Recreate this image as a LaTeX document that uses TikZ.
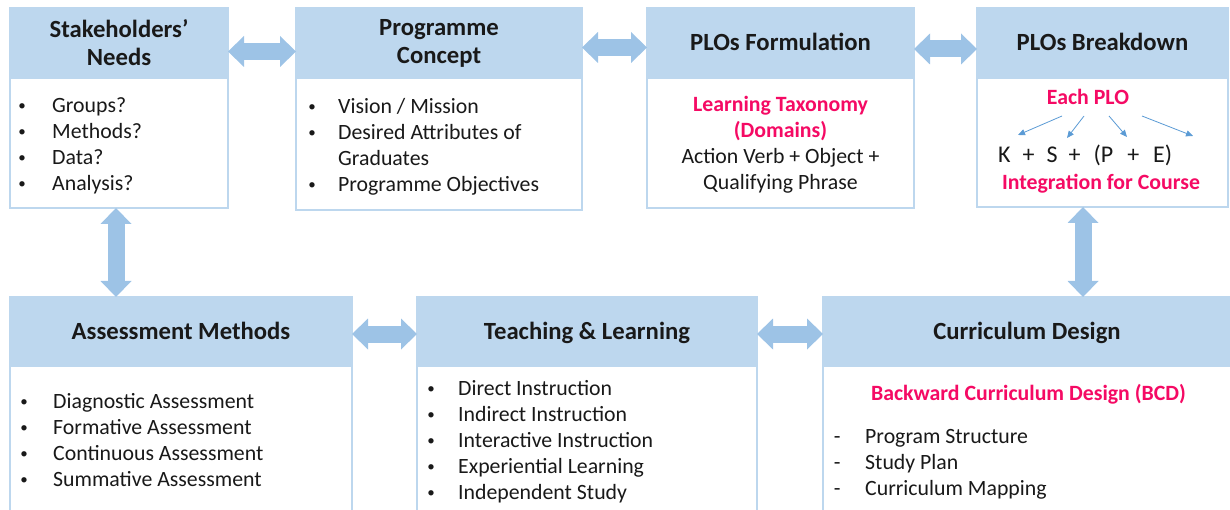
\documentclass[tikz,border=0pt]{standalone}
\usepackage{fontspec}
\setmainfont{Carlito}
\usetikzlibrary{positioning, arrows.meta}

\definecolor{hdblue}{RGB}{189,215,238}
\definecolor{arblue}{RGB}{157,195,230}
\definecolor{lnblue}{RGB}{91,155,213}
\definecolor{hlpink}{RGB}{245,10,100}
\definecolor{txt}{RGB}{25,25,25}

\newcommand{\itm}[2][28pt]{\makebox[0pt]{\raisebox{1.8pt}{\fontsize{15}{15}\selectfont\textbullet}}\hspace{#1}#2}
\newcommand{\dsh}[1]{\makebox[0pt]{-}\hspace{28pt}#1}
\newcommand{\hl}[1]{\textcolor{hlpink}{\bfseries #1}}

\begin{document}
\begin{tikzpicture}[x = 1pt, y = 1pt,
                node distance = 0pt, % boxes sit on each other
                head/.style = {fill = hdblue, draw = hdblue, line width = 1.5pt,
                    outer sep = 0pt, inner sep = 2pt, align = center, text = txt,
                    font = \fontsize{24.7}{28}\selectfont\bfseries},
                head1/.style = {head, text height = 16pt, text depth = 0pt},
                box/.style = {draw = hdblue, fill = white, line width = 1.5pt,
                    outer sep = 0pt},
                lst/.style = {inner sep = 0pt, anchor = north west, align = left,
                    text = txt, font = \fontsize{21.8}{26}\selectfont},
                bigarrow/.style = {draw = arblue, line width = 17pt,
                    {Triangle[length=16pt,width=31pt,line width=0pt]}-{Triangle[length=16pt,width=31pt,line width=0pt]}},
                plo/.style = {draw = lnblue, line width = 0.8pt,
                    -{Triangle[length=7pt,width=6pt]}}
            ]

            \useasboundingbox (0,0) rectangle (1230,-510);
            \clip (0,0) rectangle (1230,-510);

            % top row
            \node[head, minimum width = 218pt, minimum height = 70pt,
                anchor = north west] (sn) at (10,-8) {Stakeholders'\\Needs};
            \node[head, minimum width = 286pt, minimum height = 70pt,
                right = 68pt of sn] (pc) {Programme\\Concept};
            \node[head1, minimum width = 267pt, minimum height = 70pt,
                right = 65pt of pc] (pf) {PLOs Formulation};
            \node[head1, minimum width = 251pt, minimum height = 70pt,
                right = 63pt of pf] (pb) {PLOs Breakdown};

            \node[box, minimum width = 218pt, minimum height = 130pt, below = of sn] (snb) {};
            \node[box, minimum width = 286pt, minimum height = 132pt, below = of pc] (pcb) {};
            \node[box, minimum width = 267pt, minimum height = 130pt, below = of pf] (pfb) {};
            \node[box, minimum width = 251pt, minimum height = 129pt, below = of pb] (pbb) {};

            % bottom row
            \node[head1, minimum width = 342pt, minimum height = 69pt,
                anchor = north west] (am) at (10,-297) {Assessment Methods};
            \node[head1, minimum width = 340pt, minimum height = 69pt,
                right = 65pt of am] (tl) {Teaching \& Learning};
            \node[head1, minimum width = 408pt, minimum height = 69pt,
                right = 66pt of tl] (cd) {Curriculum Design};

            \node[box, minimum width = 342pt, minimum height = 160pt, below = of am] (amb) {};
            \node[box, minimum width = 340pt, minimum height = 160pt, below = of tl] (tlb) {};
            \node[box, minimum width = 408pt, minimum height = 160pt, below = of cd] (cdb) {};

            % box texts
            \node[lst] (snl) at (22,-93.8) {\strut\itm[30pt]{Groups?}\\
                \itm[30pt]{Methods?}\\\itm[30pt]{Data?}\\\itm[30pt]{Analysis?}};
            \node[lst] (pcl) at (312,-94.8) {\strut\itm[26pt]{Vision / Mission}\\
                \itm[26pt]{Desired Attributes of}\\\hspace*{26pt}Graduates\\
                \itm[26pt]{Programme Objectives}};
            \node[lst, anchor = north, align = center] (pfl) at (780.5,-92.8)
                {\strut\hl{Learning Taxonomy}\\\hl{(Domains)}\\
                Action Verb + Object +\\Qualifying Phrase};

            \node[lst, anchor = base] (ep) at (1088,-105) {\hl{Each PLO}};
            \node[lst, anchor = base west, font = \fontsize{24}{28}\selectfont] (ks) at (998,-163)
                {K\hspace{12pt}+\hspace{12pt}S\hspace{11pt}+\hspace{13pt}(P\hspace{14pt}+\hspace{14pt}E)};
            \node[lst, anchor = base] (ic) at (1101,-190) {\hl{Integration for Course}};

            \node[lst] (aml) at (24,-389.8) {\strut\itm[29pt]{Diagnostic Assessment}\\
                \itm[29pt]{Formative Assessment}\\\itm[29pt]{Continuous Assessment}\\
                \itm[29pt]{Summative Assessment}};
            \node[lst] (tll) at (431,-376.8) {\strut\itm[27pt]{Direct Instruction}\\
                \itm[27pt]{Indirect Instruction}\\\itm[27pt]{Interactive Instruction}\\
                \itm[27pt]{Experiential Learning}\\\itm[27pt]{Independent Study}};
            \node[lst, anchor = north, align = center] (bcd) at (1028.5,-381.8)
                {\strut\hl{Backward Curriculum Design (BCD)}};
            \node[lst] (cdl) at (837,-424.8) {\strut\dsh{Program Structure}\\
                \dsh{Study Plan}\\\dsh{Curriculum Mapping}};

            % small arrows of the PLO breakdown
            \coordinate (tk) at (1018,-135);
            \coordinate (ts) at (1067,-138);
            \coordinate (tp) at (1127,-137);
            \coordinate (te) at (1193,-136);
            \draw[plo] ([shift={(-26,-11)}]ep.base) -- (tk);
            \draw[plo] ([shift={(-4,-11)}]ep.base) -- (ts);
            \draw[plo] ([shift={(21,-11)}]ep.base) -- (tp);
            \draw[plo] ([shift={(54,-11)}]ep.base) -- (te);

            % block arrows
            \draw[bigarrow] ([yshift=-8.5pt]sn.east) -- ([yshift=-8.5pt]pc.west);
            \draw[bigarrow] ([yshift=-4.5pt]pc.east) -- ([yshift=-4.5pt]pf.west);
            \draw[bigarrow] ([yshift=-6pt]pf.east) -- ([yshift=-6pt]pb.west);
            \draw[bigarrow] ([yshift=-2.5pt]am.east) -- ([yshift=-2.5pt]tl.west);
            \draw[bigarrow] ([yshift=-2.5pt]tl.east) -- ([yshift=-2.5pt]cd.west);
            \draw[bigarrow] ([xshift=-3pt]snb.south) -- ([xshift=-3pt]snb.south |- am.north);
            \draw[bigarrow] ([xshift=-19.5pt]pbb.south) -- ([xshift=-19.5pt]pbb.south |- cd.north);
        \end{tikzpicture}
\end{document}
